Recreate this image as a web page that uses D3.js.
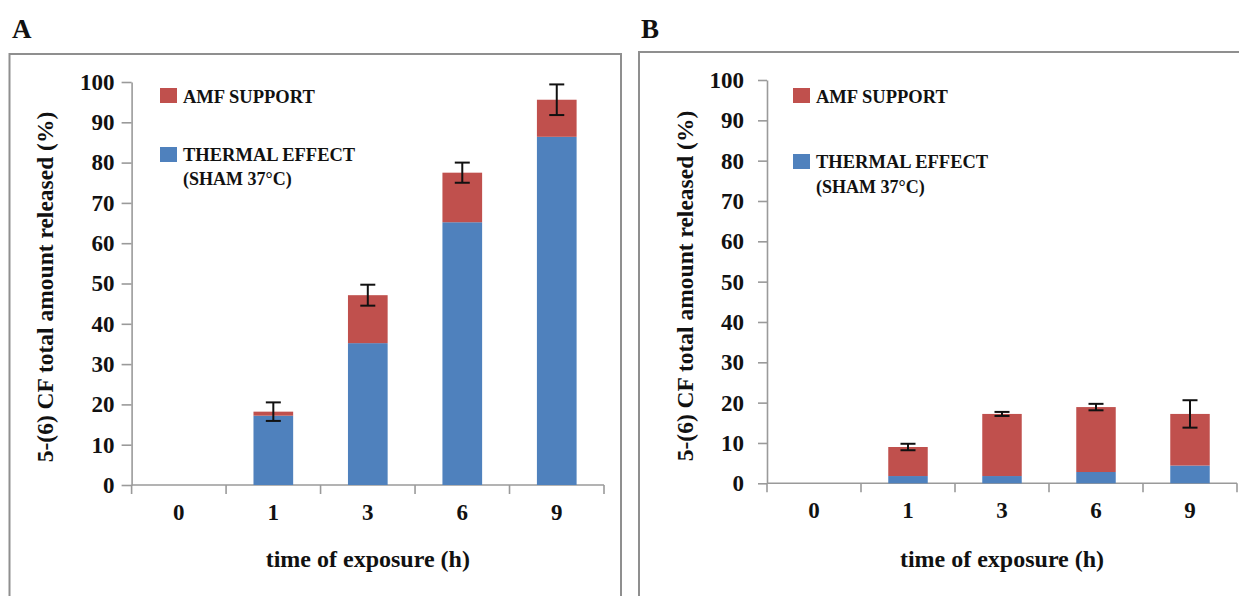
<!DOCTYPE html>
<html>
<head>
<meta charset="utf-8">
<script src="https://cdn.jsdelivr.net/npm/d3@7"></script>
<style>
  html, body { margin: 0; padding: 0; background: #fff; }
  svg { display: block; }
  text { font-family: "Palatino Linotype", "Book Antiqua", Palatino, "Liberation Serif", serif; font-weight: bold; fill: #111; }
</style>
</head>
<body>
<svg id="chart" width="1239" height="596"></svg>
<script>
// Exposure times (h)
const categories = ["0", "1", "3", "6", "9"];

// Panel A: release (%) split into sham-thermal part and AMF-supported part
const thermalA = [0, 17.2, 35.2, 65.2, 86.4];
const amfA     = [0, 1.0, 11.9, 12.3, 9.2];
const errA     = [0, 2.3, 2.6, 2.5, 3.8];

// Panel B
const thermalB = [0, 1.8, 1.8, 2.8, 4.4];
const amfB     = [0, 7.2, 15.4, 16.1, 12.8];
const errB     = [0, 0.8, 0.5, 0.8, 3.4];

const yTicks = [0, 10, 20, 30, 40, 50, 60, 70, 80, 90, 100];
const legendLabels = ["AMF SUPPORT", "THERMAL EFFECT", "(SHAM 37°C)"];
const yTitle = "5-(6) CF total amount released (%)";
const xTitle = "time of exposure (h)";

const BLUE = "#4f81bd", RED = "#c0504d", AXIS = "#9a9a9a";

const svg = d3.select("#chart");

function drawPanel(p) {
  const g = svg.append("g");

  // panel frame
  g.append("rect")
    .attr("x", p.box[0]).attr("y", p.box[1])
    .attr("width", p.box[2]).attr("height", 700)
    .attr("fill", "none").attr("stroke", "#8f8f8f").attr("stroke-width", 2);

  g.append("text").attr("x", p.letterX).attr("y", 38)
    .style("font-size", "27px").text(p.letter);

  const x = d3.scaleBand().domain(categories)
    .range([p.x0, p.x1]).paddingInner(0.58).paddingOuter(0.29);
  const y = d3.scaleLinear().domain([0, 100]).range([p.y0, p.y1]);

  // y axis
  const ya = g.append("g").attr("transform", `translate(${p.x0},0)`)
    .call(d3.axisLeft(y).tickValues(yTicks).tickSize(p.tickLen).tickPadding(p.labelGap).tickSizeOuter(0));
  ya.select(".domain").attr("stroke", AXIS).attr("stroke-width", 1.6);
  ya.selectAll(".tick line").attr("stroke", AXIS).attr("stroke-width", 1.6);
  ya.selectAll(".tick text").style("font-size", "23px").style("font-family", null).attr("fill", "#111");

  // x axis: baseline with ticks on category boundaries
  const step = x.step();
  g.append("line").attr("x1", p.x0).attr("x2", p.x1).attr("y1", y(0)).attr("y2", y(0))
    .attr("stroke", AXIS).attr("stroke-width", 1.6);
  g.selectAll(".xb").data(d3.range(categories.length + 1)).join("line")
    .attr("x1", i => p.x0 + i * step).attr("x2", i => p.x0 + i * step)
    .attr("y1", y(0)).attr("y2", y(0) + 9)
    .attr("stroke", AXIS).attr("stroke-width", 1.6);
  g.selectAll(".xl").data(categories).join("text")
    .attr("x", d => x(d) + x.bandwidth() / 2).attr("y", y(0) + 35)
    .attr("text-anchor", "middle").style("font-size", "23px").text(d => d);

  // stacked bars
  g.selectAll(".bt").data(categories).join("rect")
    .attr("x", d => x(d)).attr("width", x.bandwidth())
    .attr("y", (d, i) => y(p.thermal[i]))
    .attr("height", (d, i) => y(0) - y(p.thermal[i]))
    .attr("fill", BLUE);
  g.selectAll(".ba").data(categories).join("rect")
    .attr("x", d => x(d)).attr("width", x.bandwidth())
    .attr("y", (d, i) => y(p.thermal[i] + p.amf[i]))
    .attr("height", (d, i) => y(p.thermal[i]) - y(p.thermal[i] + p.amf[i]))
    .attr("fill", RED);

  // error bars on the stacked totals
  const eb = categories.map((d, i) => ({ c: d, t: p.thermal[i] + p.amf[i], e: p.err[i] }))
    .filter(o => o.t > 0);
  const eg = g.selectAll(".eb").data(eb).join("g");
  const cx = o => x(o.c) + x.bandwidth() / 2;
  eg.append("line").attr("x1", cx).attr("x2", cx)
    .attr("y1", o => y(o.t + o.e)).attr("y2", o => y(o.t - o.e));
  eg.append("line").attr("x1", o => cx(o) - 7.5).attr("x2", o => cx(o) + 7.5)
    .attr("y1", o => y(o.t + o.e)).attr("y2", o => y(o.t + o.e));
  eg.append("line").attr("x1", o => cx(o) - 7.5).attr("x2", o => cx(o) + 7.5)
    .attr("y1", o => y(o.t - o.e)).attr("y2", o => y(o.t - o.e));
  eg.selectAll("line").attr("stroke", "#111").attr("stroke-width", 2);

  // axis titles
  g.append("text").attr("x", (p.x0 + p.x1) / 2).attr("y", 567)
    .attr("text-anchor", "middle").style("font-size", "24px").text(xTitle);
  g.append("text")
    .attr("transform", `translate(${p.yTitleX},${p.yTitleY}) rotate(-90)`)
    .attr("text-anchor", "middle").style("font-size", "23.5px").text(yTitle);

  // legend
  const L = p.legend;
  g.append("rect").attr("x", L.x).attr("y", L.y1 - 15).attr("width", 17).attr("height", 15).attr("fill", RED);
  g.append("text").attr("x", L.x + 23).attr("y", L.y1).style("font-size", "18.5px").text(legendLabels[0]);
  g.append("rect").attr("x", L.x).attr("y", L.y2 - 14).attr("width", 17).attr("height", 15).attr("fill", BLUE);
  g.append("text").attr("x", L.x + 23).attr("y", L.y2).style("font-size", "18.5px").text(legendLabels[1]);
  g.append("text").attr("x", L.x + 23).attr("y", L.y3).style("font-size", "18px").text(legendLabels[2]);
}

drawPanel({
  letter: "A", letterX: 12, box: [9.5, 54, 611.5],
  x0: 131.6, x1: 604, y0: 485, y1: 82,
  tickLen: 10, labelGap: 7,
  thermal: thermalA, amf: amfA, err: errA,
  yTitleX: 53, yTitleY: 287,
  legend: { x: 160, y1: 103, y2: 161, y3: 185 }
});

drawPanel({
  letter: "B", letterX: 641, box: [639, 52, 700],
  x0: 767, x1: 1237, y0: 483.3, y1: 80,
  tickLen: 9, labelGap: 14,
  thermal: thermalB, amf: amfB, err: errB,
  yTitleX: 693, yTitleY: 286,
  legend: { x: 793, y1: 103, y2: 168, y3: 193 }
});
</script>
</body>
</html>
